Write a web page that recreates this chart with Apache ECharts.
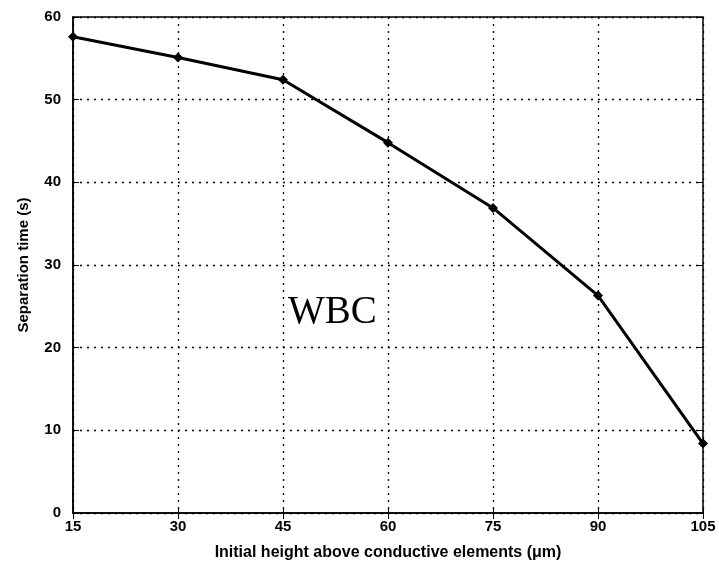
<!DOCTYPE html>
<html>
<head>
<meta charset="UTF-8">
<script type="text/javascript" src="https://cdn.jsdelivr.net/npm/echarts@6/dist/echarts.min.js"></script>
<title>WBC separation time</title>
</head>
<body style="margin:0;background:#fff">
	<div id="main" style="width:719px;height:578px;"></div>
	<script type="text/javascript">
		// initial height (um) vs separation time (s)
		var heights = [15, 30, 45, 60, 75, 90, 105];
		var sepTime = [57.6, 55.1, 52.4, 44.8, 36.9, 26.3, 8.4];

		var myChart = echarts.init(document.getElementById("main"));
		var pts = [];
		for (var i = 0; i < heights.length; i++) {
			pts.push([heights[i], sepTime[i]]);
		}
		var lab = {color:'#000', fontFamily:'Liberation Sans', fontWeight:'bold', fontSize:15};
		var dotted = {show:true, lineStyle:{color:'#000', type:[2,5], width:1.3}};

		var option = {
			animation:false,
			grid:{left:73, right:16, top:17, bottom:65, show:true, borderColor:'#000', borderWidth:1.5},
			xAxis:[
				{
					type:'value', min:15, max:105, interval:15,
					name:'Initial height above conductive elements (\u03bcm)',
					nameLocation:'middle', nameGap:32,
					nameTextStyle:{color:'#000', fontFamily:'Liberation Sans', fontWeight:'bold', fontSize:16},
					axisLine:{lineStyle:{color:'#000', width:1.5}},
					axisTick:{inside:true, length:6, lineStyle:{color:'#000'}},
					axisLabel:Object.assign({margin:6}, lab),
					splitLine:dotted
				},
				{
					type:'value', position:'top', min:15, max:105, interval:15,
					axisLine:{show:false},
					axisTick:{inside:true, length:6, lineStyle:{color:'#000'}},
					axisLabel:{show:false}, splitLine:{show:false}
				}
			],
			yAxis:[
				{
					type:'value', min:0, max:60, interval:10,
					name:'Separation time (s)',
					nameLocation:'middle', nameGap:42,
					nameTextStyle:{color:'#000', fontFamily:'Liberation Sans', fontWeight:'bold', fontSize:15},
					axisLine:{lineStyle:{color:'#000', width:1.5}},
					axisTick:{inside:true, length:6, lineStyle:{color:'#000'}},
					axisLabel:Object.assign({margin:12}, lab),
					splitLine:dotted
				},
				{
					type:'value', position:'right', min:0, max:60, interval:10,
					axisLine:{show:false},
					axisTick:{inside:true, length:6, lineStyle:{color:'#000'}},
					axisLabel:{show:false}, splitLine:{show:false}
				}
			],
			graphic:[{
				type:'text', left:288, top:293,
				style:{text:'WBC', fill:'#000', font:'39px "Liberation Serif"'}
			}],
			series:[{
				type:'line',
				data:pts,
				symbol:'diamond', symbolSize:10,
				lineStyle:{color:'#000', width:3},
				itemStyle:{color:'#000'}
			}]
		};
		myChart.setOption(option);
	</script>
</body>
</html>
